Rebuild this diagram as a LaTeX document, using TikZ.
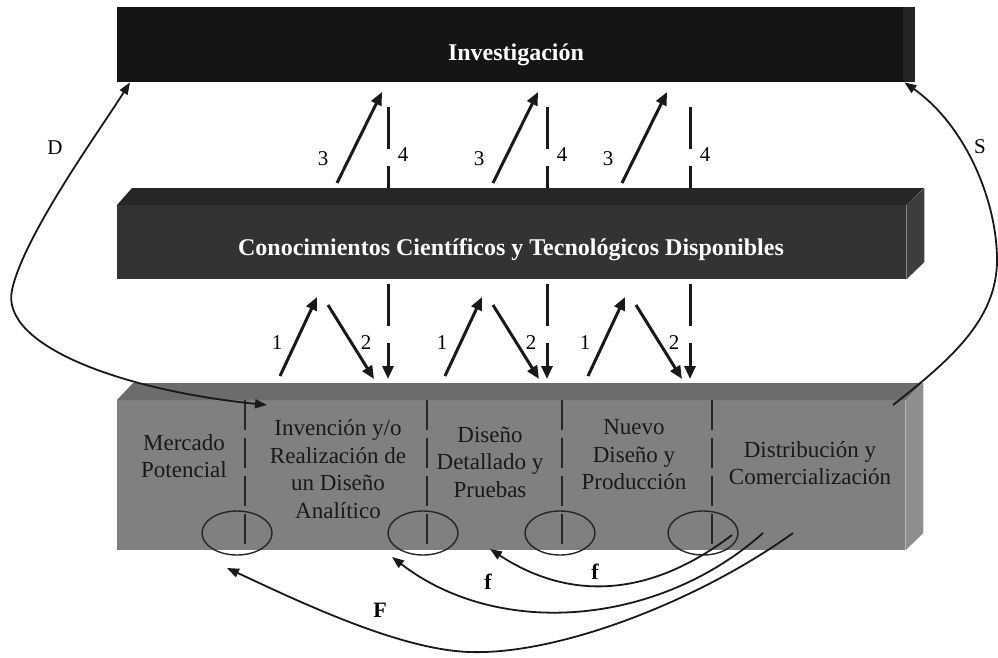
\documentclass[tikz,border=0pt]{standalone}
\usepackage{fontspec}
\setmainfont{Liberation Serif}
\usetikzlibrary{positioning, shapes.geometric, arrows.meta}

\definecolor{barblack}{HTML}{151515}
\definecolor{barside}{HTML}{242424}
\definecolor{midfront}{HTML}{333333}
\definecolor{midtop}{HTML}{262626}
\definecolor{midside}{HTML}{3D3D3D}
\definecolor{boxfront}{HTML}{808080}
\definecolor{boxtop}{HTML}{6C6C6C}
\definecolor{boxside}{HTML}{8E8E8E}

\begin{document}
\begin{tikzpicture}[
    x=1pt, y=-1pt,
    face/.style={
        rectangle,
        inner sep=0pt,
        anchor=north west
    },
    bartext/.style={
        text=white,
        inner sep=0pt,
        font=\bfseries\fontsize{24}{28}\selectfont
    },
    stage/.style={
        align=center,
        inner sep=0pt,
        text=black!90,
        font=\fontsize{23}{27.5}\selectfont
    },
    divider/.style={
        draw=black!85,
        line width=2.4pt,
        dash pattern=on 30pt off 8pt
    },
    ring/.style={
        ellipse,
        draw=black!85,
        line width=1.4pt,
        minimum width=70pt,
        minimum height=44pt,
        inner sep=0pt
    },
    flow/.style={
        -{Triangle[length=13pt, width=11pt]},
        line width=3pt,
        black!90
    },
    back/.style={
        flow,
        dash pattern=on 42pt off 17pt
    },
    link/.style={
        -{Triangle[length=12pt, width=9pt]},
        line width=1.8pt,
        black!90
    },
    num/.style={
        inner sep=0pt,
        font=\fontsize{21}{21}\selectfont
    },
    tag/.style={
        inner sep=0pt,
        font=\bfseries\fontsize{22}{22}\selectfont
    }
]
\useasboundingbox (0,0) rectangle (998,658);

% Return lines 4 (behind the middle bar)
\foreach \dn [count=\i] in {388,547,690} {
    \coordinate (bk\i) at (\dn,107);
    \coordinate (bkend\i) at (\dn,379);
    \draw[back] (bk\i) -- (bkend\i);
    \node[num] (n4\i) at (\dn+15,155) {4};
}

% Investigacion
\node[face, fill=barblack, minimum width=798pt, minimum height=75pt] (inv) at (117,7) {};
\fill[barside] (903,7) rectangle (inv.south east);
\node[bartext] (invtxt) at (516,55) {Investigación};

% Conocimientos bar
\node[face, fill=midfront, minimum width=789pt, minimum height=74pt] (con) at (117,205) {};
\fill[midtop] (con.north west) -- ++(15,-17) -- ++(792,0) -- (con.north east) -- cycle;
\fill[midside] (con.north east) -- ++(18,-17) -- ++(0,74) -- (con.south east) -- cycle;
\node[bartext] (contxt) at (511,250) {Conocimientos Científicos y Tecnológicos Disponibles};

% Process box
\node[face, fill=boxfront, minimum width=788pt, minimum height=150pt] (proc) at (117,400) {};
\fill[boxtop] (proc.north west) -- ++(16,-17) -- ++(790,0) -- (proc.north east) -- cycle;
\fill[boxside] (proc.north east) -- ++(18,-17) -- ++(0,150) -- (proc.south east) -- cycle;

\foreach \dx in {245,427,562,712}
    \draw[divider] (\dx,400) -- (\dx,550);

\node[stage] (mercado) at (184,456) {Mercado\\Potencial};
\node[stage] (invencion) at (338,469) {Invención y/o\\Realización de\\un Diseño\\Analítico};
\node[stage] (detalle) at (490,462) {Diseño\\Detallado y\\Pruebas};
\node[stage] (nuevo) at (634,455) {Nuevo\\Diseño y\\Producción};
\node[stage] (distrib) at (810,463) {Distribución y\\Comercialización};

\foreach \cx [count=\i] in {237,423,560,703}
    \node[ring] (ring\i) at (\cx,533) {};

% Arrows 1, 2, 3
\foreach \up/\re [count=\i] in {280/337, 445/493, 588/622} {
    \coordinate (ua\i) at (\up,376);
    \coordinate (ub\i) at (\up+37,297);
    \coordinate (da\i) at (\up+48,305);
    \coordinate (db\i) at (\up+94,379);
    \coordinate (ra\i) at (\re,183);
    \coordinate (rb\i) at (\re+45,92);
    \draw[flow] (ua\i) -- (ub\i);
    \draw[flow] (da\i) -- (db\i);
    \draw[flow] (ra\i) -- (rb\i);
    \node[num] (n1\i) at (\up-3,343) {1};
    \node[num] (n2\i) at (\up+86,343) {2};
    \node[num] (n3\i) at (\re-14,159) {3};
}

% D and S
\coordinate (dfoot) at (267,405);
\coordinate (sfoot) at (893,405);
\draw[link, {Triangle[length=12pt, width=9pt]}-{Triangle[length=12pt, width=9pt]}]
    (dfoot) .. controls (120,390) and (0,345) .. (12,290)
    .. controls (24,235) and (100,130) .. ([xshift=13pt]inv.south west);
\draw[link] (sfoot) .. controls (950,360) and (997,320) .. (997,260)
    .. controls (997,200) and (965,125) .. ([xshift=-11pt]inv.south east);
\node[num] (dlab) at (55,148) {D};
\node[num] (slab) at (980,147) {S};

% Feedback f, f, F
\coordinate (fa) at (732,535);
\coordinate (fb) at (763,533);
\coordinate (fc) at (793,533);
\coordinate (ta) at (490,549);
\coordinate (tb) at (392,557);
\coordinate (tc) at (227,568);
\draw[link] (fa) .. controls (640,605) and (560,595) .. (ta);
\draw[link] (fb) .. controls (660,625) and (500,640) .. (tb);
\draw[link] (fc) .. controls (700,600) and (560,655) .. (470,652)
    .. controls (400,650) and (300,602) .. (tc);
\node[tag] (fin) at (595,572) {f};
\node[tag] (fmid) at (488,582) {f};
\node[tag] (fout) at (380,610) {F};

\end{tikzpicture}
\end{document}
